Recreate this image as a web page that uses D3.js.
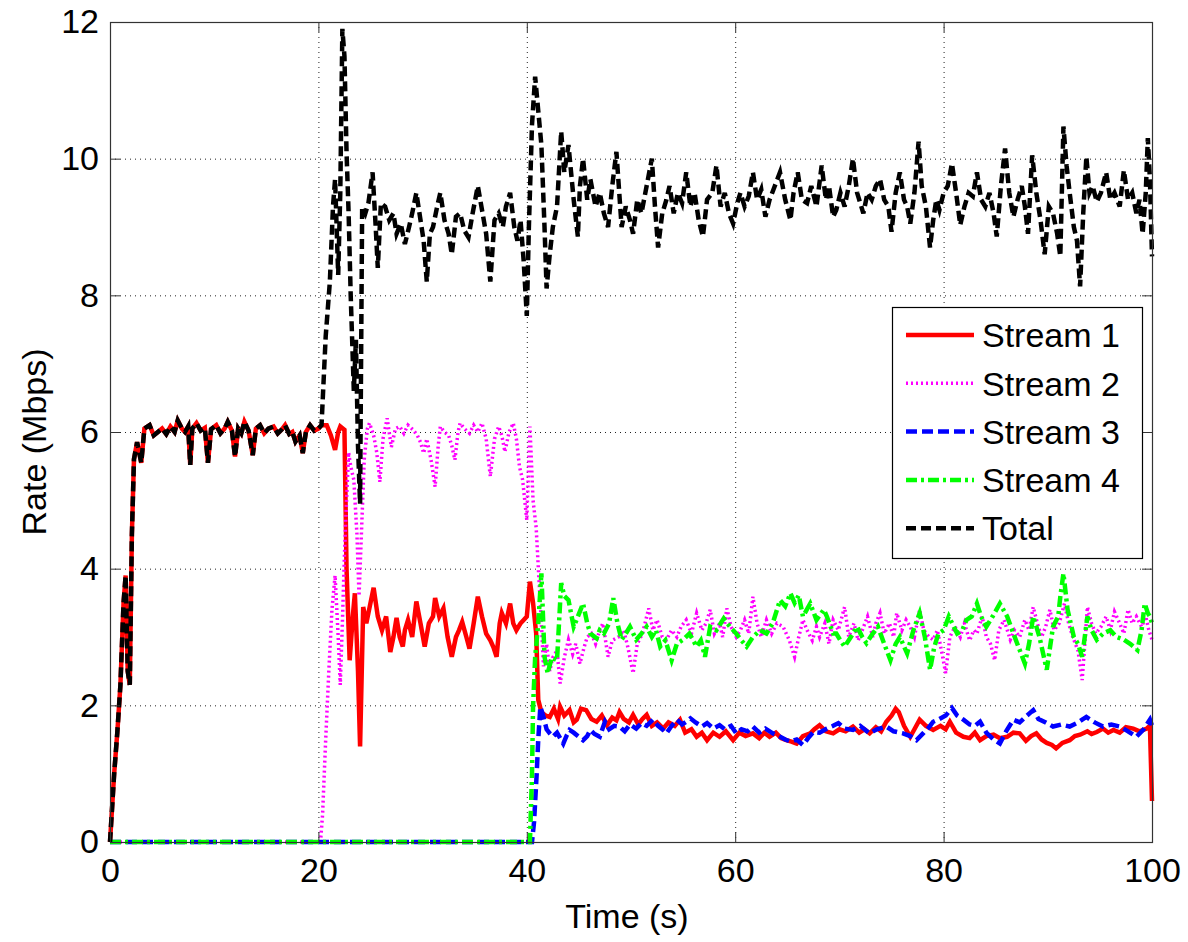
<!DOCTYPE html>
<html>
<head>
<meta charset="utf-8">
<script src="https://cdn.jsdelivr.net/npm/d3@7"></script>
<style>
  html, body { margin: 0; padding: 0; background: #fff; }
  svg text { font-family: "Liberation Sans", Arial, Helvetica, sans-serif; fill: #000; }
</style>
</head>
<body>
<svg id="chart" width="1188" height="942"></svg>
<script>
// data: [time (s), rate (Mbps)]
// Stream 1 and Total coincide until stream 2 starts (~20 s)
const startPhase = [[0,0],[0.4,1.0],[0.7,1.6],[1.0,2.3],[1.3,3.5],[1.5,3.9],[1.7,2.5],[1.9,2.3],[2.1,4.5],[2.3,5.6],[2.6,5.85],[3.0,5.55],[3.3,6.05],[3.8,6.1],[4.2,5.95],[4.6,6.0],[5.0,6.05],[5.4,5.97],[5.8,6.08],[6.2,6.0],[6.5,6.17],[6.9,6.05],[7.2,6.0],[7.5,6.08],[7.7,5.52],[7.9,6.05],[8.3,6.13],[8.7,6.02],[9.1,6.06],[9.4,5.55],[9.7,6.04],[10.2,6.1],[10.6,5.98],[11.0,6.05],[11.3,6.15],[11.7,6.02],[12.0,5.64],[12.3,6.05],[12.6,5.98],[12.9,6.15],[13.3,6.02],[13.7,5.66],[14.0,6.05],[14.4,6.1],[14.8,5.98],[15.2,6.05],[15.7,6.08],[16.1,5.98],[16.5,6.04],[16.8,6.1],[17.2,5.97],[17.5,6.0],[17.8,5.86],[18.2,5.95],[18.5,5.69],[18.8,6.0],[19.2,6.1],[19.6,6.02],[20.0,6.05],[20.3,6.1]];

const stream1Rest = [[20.8,6.1],[21.2,5.95],[21.6,5.74],[21.9,6.0],[22.1,6.08],[22.5,6.03],[22.7,4.0],[23.0,2.66],[23.3,3.3],[23.5,3.64],[23.8,2.5],[24.0,1.4],[24.3,3.44],[24.6,3.2],[24.8,3.35],[25.0,3.5],[25.3,3.72],[25.7,3.3],[26.1,3.1],[26.5,3.3],[26.9,2.78],[27.2,3.0],[27.5,3.28],[27.8,3.0],[28.1,2.86],[28.3,3.1],[28.6,3.25],[29.0,3.0],[29.4,3.52],[29.8,3.2],[30.2,2.86],[30.6,3.2],[31.0,3.3],[31.2,3.57],[31.6,3.3],[32.0,3.42],[32.4,3.0],[32.8,2.71],[33.2,3.0],[33.5,3.1],[33.8,3.22],[34.2,3.0],[34.5,2.83],[34.9,3.2],[35.3,3.59],[35.7,3.3],[36.1,3.05],[36.5,2.95],[36.8,2.85],[37.1,2.71],[37.4,3.2],[37.6,3.35],[38.0,3.2],[38.4,3.49],[38.7,3.2],[39.0,3.1],[39.4,3.2],[39.7,3.25],[40.0,3.3],[40.3,3.81],[40.6,3.5],[40.9,3.05],[41.1,2.08],[41.4,1.9],[41.8,1.85],[42.2,1.83],[42.6,1.95],[43.0,1.8],[43.2,1.98],[43.6,1.85],[44.1,1.93],[44.5,1.75],[44.8,1.79],[45.2,1.95],[45.7,1.93],[46.2,1.8],[46.7,1.76],[47.2,1.85],[47.7,1.71],[48.2,1.82],[48.6,1.78],[48.9,1.9],[49.3,1.8],[49.8,1.75],[50.2,1.86],[50.7,1.72],[51.1,1.8],[51.5,1.86],[52.0,1.7],[52.5,1.75],[53.1,1.66],[53.6,1.75],[54.2,1.7],[54.7,1.79],[55.2,1.6],[55.8,1.65],[56.3,1.54],[56.8,1.6],[57.3,1.49],[57.9,1.6],[58.5,1.54],[59.1,1.62],[59.8,1.49],[60.4,1.6],[61.0,1.55],[61.7,1.59],[62.3,1.52],[62.8,1.6],[63.3,1.54],[63.9,1.6],[64.4,1.52],[64.9,1.49],[65.4,1.47],[65.9,1.44],[66.5,1.55],[67.2,1.59],[67.6,1.65],[68.1,1.71],[68.7,1.62],[69.4,1.59],[70.0,1.65],[70.6,1.62],[71.3,1.69],[71.9,1.6],[72.4,1.65],[72.9,1.59],[73.5,1.68],[74.0,1.62],[74.5,1.76],[75.0,1.85],[75.4,1.95],[75.7,1.9],[76.2,1.7],[76.8,1.54],[77.2,1.65],[77.7,1.79],[78.3,1.7],[79.0,1.64],[79.7,1.7],[80.2,1.65],[80.6,1.76],[81.2,1.6],[81.9,1.54],[82.5,1.52],[83.0,1.6],[83.5,1.49],[84.1,1.55],[84.8,1.57],[85.4,1.52],[86.1,1.54],[86.7,1.6],[87.3,1.59],[87.9,1.48],[88.4,1.55],[88.9,1.59],[89.4,1.5],[89.9,1.45],[90.4,1.42],[90.8,1.37],[91.4,1.45],[92.1,1.49],[92.6,1.55],[93.1,1.57],[93.8,1.62],[94.2,1.58],[94.7,1.61],[95.3,1.66],[95.8,1.6],[96.3,1.64],[96.9,1.6],[97.5,1.68],[98.2,1.66],[98.8,1.62],[99.5,1.66],[99.8,1.7],[100,0.6]];

const stream2 = [[0,0],[20.2,0],[20.4,0.4],[20.7,1.5],[21.0,2.5],[21.3,3.4],[21.6,3.9],[21.9,3.0],[22.1,2.3],[22.3,3.2],[22.5,4.2],[22.7,5.0],[22.9,5.7],[23.1,5.5],[23.4,5.3],[23.7,4.5],[23.9,3.6],[24.1,4.4],[24.4,5.6],[24.7,6.05],[24.9,6.13],[25.3,5.95],[25.6,5.7],[25.9,5.27],[26.2,5.9],[26.6,6.2],[27.0,5.78],[27.4,6.05],[27.8,6.08],[28.2,5.98],[28.6,6.1],[29.1,6.03],[29.5,5.95],[29.8,5.85],[30.1,5.69],[30.4,5.9],[30.8,5.6],[31.2,5.2],[31.5,5.8],[31.7,6.08],[32.1,6.0],[32.5,5.95],[32.8,5.8],[33.1,5.59],[33.4,6.0],[33.6,6.13],[34.0,6.05],[34.5,5.98],[34.9,6.1],[35.3,6.0],[35.7,6.13],[36.1,5.9],[36.5,5.35],[36.9,5.9],[37.3,6.08],[37.6,5.95],[37.9,5.71],[38.3,6.0],[38.7,6.13],[39.0,5.9],[39.3,5.49],[39.6,5.3],[40.0,4.71],[40.3,6.08],[40.6,5.0],[40.9,4.6],[41.1,4.03],[41.4,3.2],[41.6,2.57],[41.9,2.9],[42.2,2.5],[42.5,2.7],[42.9,2.8],[43.2,2.32],[43.6,2.7],[44.0,2.96],[44.4,2.75],[44.7,2.9],[45.1,2.61],[45.5,2.85],[45.8,3.0],[46.2,3.05],[46.6,2.9],[47.0,3.1],[47.3,3.2],[47.8,2.71],[48.2,2.95],[48.8,3.0],[49.3,3.1],[49.7,2.85],[50.2,2.47],[50.6,2.9],[51.1,3.05],[51.7,3.42],[52.1,3.1],[52.5,3.25],[53.0,3.0],[53.4,2.96],[53.9,3.1],[54.4,3.0],[54.8,3.15],[55.3,3.25],[55.8,3.05],[56.3,3.35],[56.8,3.1],[57.2,3.2],[57.6,3.4],[58.0,3.05],[58.5,3.2],[58.8,3.0],[59.2,3.42],[59.6,3.15],[60.1,3.0],[60.5,3.1],[60.9,3.25],[61.3,3.05],[61.7,3.59],[62.1,3.2],[62.5,3.0],[63.0,3.25],[63.5,3.05],[64.0,3.2],[64.6,3.15],[65.2,2.95],[65.7,2.71],[66.1,3.0],[66.5,3.25],[66.9,3.1],[67.4,2.95],[67.8,3.15],[68.1,3.0],[68.6,3.2],[69.0,2.9],[69.4,3.25],[69.9,3.1],[70.5,3.44],[70.9,3.0],[71.4,3.2],[71.8,2.95],[72.2,3.1],[72.7,3.3],[73.2,3.0],[73.5,3.2],[73.9,3.35],[74.3,3.05],[74.8,3.2],[75.2,3.0],[75.5,3.35],[76.0,3.1],[76.4,3.25],[76.8,3.15],[77.2,3.0],[77.7,3.4],[78.1,3.1],[78.6,3.0],[79.0,2.96],[79.4,3.1],[79.8,2.8],[80.2,2.47],[80.6,3.0],[81.1,3.15],[81.6,3.0],[82.0,3.2],[82.5,2.95],[82.9,3.1],[83.2,3.05],[83.7,3.3],[84.1,3.0],[84.5,2.9],[84.9,2.66],[85.3,3.1],[85.8,3.25],[86.4,2.96],[86.8,3.1],[87.3,3.0],[87.8,3.25],[88.2,3.1],[88.6,3.44],[89.0,3.2],[89.4,3.0],[89.8,3.15],[90.2,3.4],[90.6,3.1],[91.1,3.2],[91.6,3.49],[92.0,3.2],[92.4,3.0],[92.9,2.8],[93.3,2.37],[93.6,3.0],[93.8,3.44],[94.2,3.2],[94.6,3.05],[95.1,3.15],[95.6,3.3],[96.0,3.1],[96.4,3.37],[96.9,3.2],[97.3,3.05],[97.7,3.4],[98.1,3.2],[98.5,3.3],[99.0,3.15],[99.4,3.3],[99.7,3.1],[100,2.96]];

const stream3 = [[0,0],[40.5,0],[40.7,0.3],[40.95,1.0],[41.1,1.5],[41.3,1.98],[41.6,1.83],[41.9,1.65],[42.2,1.59],[42.5,1.54],[42.9,1.6],[43.2,1.52],[43.5,1.44],[43.8,1.55],[44.1,1.64],[44.5,1.6],[44.9,1.55],[45.4,1.49],[45.8,1.55],[46.1,1.64],[46.5,1.58],[47.0,1.54],[47.5,1.76],[47.9,1.65],[48.4,1.7],[48.9,1.69],[49.4,1.62],[49.9,1.72],[50.5,1.66],[51.0,1.74],[51.5,1.7],[52.1,1.79],[52.6,1.7],[53.0,1.65],[53.4,1.59],[53.9,1.7],[54.4,1.79],[54.9,1.72],[55.3,1.76],[55.7,1.81],[56.2,1.75],[56.8,1.69],[57.3,1.74],[57.9,1.66],[58.5,1.71],[59.0,1.65],[59.6,1.7],[60.1,1.59],[60.6,1.65],[61.2,1.62],[61.7,1.69],[62.3,1.6],[62.9,1.66],[63.6,1.59],[64.2,1.55],[64.8,1.5],[65.3,1.47],[65.9,1.5],[66.5,1.42],[67.0,1.52],[67.5,1.61],[68.1,1.6],[68.8,1.66],[69.4,1.7],[69.9,1.74],[70.5,1.66],[71.3,1.64],[72.0,1.7],[72.9,1.59],[73.6,1.65],[74.5,1.69],[75.2,1.62],[76.1,1.59],[76.8,1.55],[77.4,1.49],[78.1,1.6],[78.6,1.68],[79.0,1.76],[79.6,1.8],[80.2,1.85],[80.8,1.96],[81.3,1.85],[81.9,1.79],[82.5,1.72],[83.0,1.7],[83.5,1.76],[84.1,1.6],[84.8,1.5],[85.4,1.44],[86.0,1.62],[86.7,1.79],[87.3,1.75],[88.0,1.85],[88.6,1.93],[89.1,1.8],[89.8,1.75],[90.5,1.69],[91.3,1.72],[92.1,1.69],[92.9,1.75],[93.7,1.83],[94.5,1.75],[95.3,1.69],[96.1,1.72],[96.9,1.69],[97.7,1.62],[98.5,1.54],[99.2,1.65],[99.8,1.79],[100,1.7]];

const stream4 = [[0,0],[40.3,0],[40.5,1.0],[40.6,1.98],[40.8,2.7],[41.1,3.2],[41.4,3.93],[41.7,2.71],[42.0,2.47],[42.4,2.7],[42.9,2.66],[43.3,3.79],[43.6,3.6],[44.0,3.54],[44.5,3.15],[44.9,3.3],[45.4,3.49],[45.8,3.2],[46.1,3.05],[46.7,2.98],[47.0,3.1],[47.4,3.05],[47.9,3.2],[48.3,3.57],[48.7,3.2],[49.1,2.96],[49.5,3.05],[49.9,3.15],[50.5,2.96],[51.0,3.05],[51.5,3.15],[52.0,3.0],[52.4,3.1],[52.8,2.86],[53.3,2.95],[53.9,2.66],[54.4,2.9],[55.0,2.96],[55.6,3.05],[56.3,2.86],[56.7,2.95],[57.1,2.71],[57.6,3.15],[58.2,3.1],[58.9,3.27],[59.5,3.15],[60.1,3.05],[60.6,2.95],[61.1,2.86],[61.7,3.0],[62.4,3.1],[63.0,3.05],[63.6,3.2],[64.3,3.54],[64.8,3.45],[65.3,3.64],[65.7,3.5],[66.1,3.61],[66.5,3.3],[67.2,3.49],[67.8,3.25],[68.5,3.4],[68.8,3.3],[69.4,3.05],[69.7,3.05],[70.1,2.95],[70.5,2.86],[71.1,3.0],[71.7,3.15],[72.2,3.0],[72.6,2.91],[73.2,3.05],[73.7,3.15],[74.3,2.9],[74.9,2.66],[75.4,2.9],[75.8,3.0],[76.5,2.76],[77.1,3.1],[77.7,3.35],[78.2,3.0],[78.7,2.52],[79.1,2.85],[79.5,3.05],[80.0,3.1],[80.5,3.3],[81.3,3.05],[81.8,3.1],[82.2,3.25],[82.7,3.3],[83.2,3.49],[83.6,3.3],[84.1,3.15],[84.7,3.3],[85.4,3.49],[86.1,3.3],[86.7,3.05],[87.2,2.85],[87.8,2.61],[88.2,2.9],[88.6,3.3],[89.2,3.0],[89.9,2.52],[90.5,3.15],[91.0,3.3],[91.2,3.59],[91.5,3.93],[91.9,3.4],[92.5,3.0],[92.9,2.9],[93.3,2.71],[93.8,3.3],[94.2,3.1],[94.7,2.96],[95.3,3.05],[96.0,3.1],[96.6,3.0],[97.3,2.96],[97.9,2.9],[98.6,2.81],[99.0,3.1],[99.3,3.49],[99.6,3.35],[99.8,3.3],[100,3.2]];

const totalRest = [[20.7,7.4],[21.1,8.2],[21.4,9.3],[21.6,9.7],[21.9,8.3],[22.1,9.5],[22.3,11.9],[22.5,11.5],[22.7,10.1],[22.9,9.2],[23.1,8.0],[23.4,6.6],[23.6,7.35],[23.8,5.8],[24.0,4.95],[24.2,9.3],[24.5,9.2],[24.8,9.35],[25.2,9.8],[25.5,9.0],[25.7,8.4],[26.0,9.35],[26.4,9.3],[26.8,9.1],[27.2,9.2],[27.5,8.9],[27.9,9.05],[28.3,8.75],[28.7,9.0],[29.0,9.2],[29.4,9.5],[29.8,9.1],[30.1,8.8],[30.4,8.2],[30.7,8.9],[31.0,9.0],[31.4,9.3],[31.7,9.5],[32.1,9.1],[32.5,8.9],[32.8,8.6],[33.2,9.15],[33.6,9.2],[34.0,8.95],[34.4,8.85],[34.8,9.2],[35.3,9.6],[35.7,9.25],[36.1,8.9],[36.5,8.2],[36.9,9.1],[37.3,9.2],[37.7,9.0],[38.0,9.3],[38.4,9.5],[38.8,9.0],[39.1,8.8],[39.4,9.1],[39.7,8.5],[40.0,7.7],[40.2,9.0],[40.5,10.5],[40.8,11.2],[41.1,10.7],[41.4,10.2],[41.7,9.0],[41.9,8.1],[42.2,8.6],[42.5,9.0],[42.9,9.3],[43.3,10.4],[43.6,9.8],[44.0,10.2],[44.5,9.4],[44.9,8.86],[45.1,9.6],[45.4,10.0],[45.8,9.4],[46.1,9.7],[46.6,9.3],[47.0,9.5],[47.4,9.2],[47.8,9.0],[48.2,9.6],[48.6,10.1],[49.1,9.0],[49.5,9.3],[49.9,9.1],[50.2,8.9],[50.6,9.4],[51.0,9.2],[51.5,9.6],[52.0,10.0],[52.3,9.3],[52.6,8.7],[53.0,9.2],[53.4,9.4],[53.7,9.6],[54.1,9.2],[54.5,9.5],[54.9,9.35],[55.3,9.8],[55.7,9.3],[56.1,9.5],[56.5,9.1],[56.9,8.86],[57.3,9.4],[57.8,9.5],[58.2,9.9],[58.6,9.3],[59.0,9.5],[59.4,9.2],[59.8,9.05],[60.2,9.35],[60.5,9.5],[60.9,9.3],[61.3,9.45],[61.7,9.8],[62.1,9.4],[62.5,9.55],[62.9,9.15],[63.3,9.4],[63.8,9.6],[64.3,9.8],[64.8,9.4],[65.3,9.1],[65.6,9.5],[66.0,9.8],[66.4,9.4],[66.9,9.35],[67.3,9.6],[67.8,9.3],[68.3,9.9],[68.7,9.4],[69.0,9.6],[69.4,9.15],[69.7,9.25],[70.1,9.5],[70.5,9.3],[70.9,9.6],[71.3,10.0],[71.7,9.5],[72.0,9.35],[72.3,9.2],[72.7,9.5],[73.1,9.4],[73.5,9.6],[73.9,9.7],[74.3,9.4],[74.7,9.3],[75.0,8.93],[75.4,9.5],[75.8,9.8],[76.2,9.4],[76.5,9.3],[76.8,9.05],[77.2,9.5],[77.6,10.25],[77.9,9.6],[78.3,9.3],[78.7,8.7],[79.0,9.1],[79.3,9.4],[79.6,9.25],[80.0,9.5],[80.4,9.6],[80.8,9.93],[81.2,9.5],[81.6,9.03],[82.0,9.3],[82.4,9.5],[82.8,9.45],[83.2,9.8],[83.6,9.4],[84.0,9.3],[84.4,9.5],[84.8,9.2],[85.1,8.86],[85.5,9.6],[85.9,10.15],[86.3,9.5],[86.7,9.15],[87.1,9.4],[87.5,9.6],[87.8,9.3],[88.1,8.9],[88.5,10.05],[88.9,9.5],[89.3,9.1],[89.7,8.6],[90.1,9.3],[90.5,9.2],[90.9,8.9],[91.2,8.57],[91.5,10.47],[91.8,9.9],[92.1,9.5],[92.5,9.0],[92.8,8.8],[93.1,8.13],[93.4,9.2],[93.7,10.03],[94.0,9.5],[94.3,9.6],[94.7,9.37],[95.1,9.5],[95.6,9.8],[96.0,9.4],[96.4,9.5],[96.9,9.3],[97.3,9.83],[97.7,9.4],[98.1,9.5],[98.5,9.2],[98.8,9.4],[99.1,8.9],[99.4,9.5],[99.6,10.3],[99.8,9.7],[100,8.57]];

const xTicks = [0, 20, 40, 60, 80, 100];
const yTicks = [0, 2, 4, 6, 8, 10, 12];
const seriesNames = ["Stream 1", "Stream 2", "Stream 3", "Stream 4", "Total"];

// series styles (plot order = legend order, Total drawn last)
const series = [
    { name: seriesNames[0], data: startPhase.concat(stream1Rest), color: "#ff0000", width: 4.5, dash: null },
    { name: seriesNames[1], data: stream2, color: "#ff00ff", width: 3.5, dash: "2,3" },
    { name: seriesNames[2], data: stream3, color: "#0000ff", width: 4.5, dash: "11,5" },
    { name: seriesNames[3], data: stream4, color: "#00ff00", width: 4.5, dash: "11,4,3,4" },
    { name: seriesNames[4], data: startPhase.concat(totalRest), color: "#000000", width: 4.5, dash: "10,5" }
];

const svg = d3.select("#chart");
const plotLeft = 110, plotRight = 1152, plotTop = 22, plotBottom = 842;
const fontSize = 34;

const x = d3.scaleLinear().domain([0, 100]).range([plotLeft, plotRight]);
const y = d3.scaleLinear().domain([0, 12]).range([plotBottom, plotTop]);

svg.append("rect").attr("width", 1188).attr("height", 942).attr("fill", "#fff");

// grid
const grid = svg.append("g")
    .attr("stroke", "#222")
    .attr("stroke-width", 1)
    .attr("stroke-dasharray", "1,4");
grid.selectAll("line.gx")
    .data(xTicks.slice(1, -1))
    .join("line")
    .attr("class", "gx")
    .attr("x1", d => x(d) + 0.5).attr("x2", d => x(d) + 0.5)
    .attr("y1", plotTop).attr("y2", plotBottom);
grid.selectAll("line.gy")
    .data(yTicks.slice(1, -1))
    .join("line")
    .attr("class", "gy")
    .attr("x1", plotLeft).attr("x2", plotRight)
    .attr("y1", d => y(d) + 0.5).attr("y2", d => y(d) + 0.5);

// lines
const line = d3.line().x(d => x(d[0])).y(d => y(d[1]));
svg.append("g")
    .selectAll("path")
    .data(series)
    .join("path")
    .attr("d", d => line(d.data))
    .attr("fill", "none")
    .attr("stroke", d => d.color)
    .attr("stroke-width", d => d.width)
    .attr("stroke-dasharray", d => d.dash)
    .attr("stroke-linejoin", "miter")
    .attr("stroke-linecap", "butt");

// axes: ticks point inward, box on all four sides
const styleAxis = (g) => {
    g.select(".domain").remove();
    g.selectAll(".tick line").attr("stroke", "#333");
    g.selectAll(".tick text").attr("font-size", fontSize).attr("fill", "#000")
        .style("font-family", "'Liberation Sans', Arial, Helvetica, sans-serif");
};

svg.append("g")
    .attr("transform", `translate(0,${plotBottom})`)
    .call(d3.axisBottom(x).tickValues(xTicks).tickSize(-10).tickPadding(16).tickFormat(d3.format("d")))
    .call(styleAxis);
svg.append("g")
    .attr("transform", `translate(${plotLeft},0)`)
    .call(d3.axisLeft(y).tickValues(yTicks).tickSize(-10).tickPadding(11).tickFormat(d3.format("d")))
    .call(styleAxis);
svg.append("g")
    .attr("transform", `translate(0,${plotTop})`)
    .call(d3.axisTop(x).tickValues(xTicks).tickSize(-10).tickFormat(""))
    .call(styleAxis);
svg.append("g")
    .attr("transform", `translate(${plotRight},0)`)
    .call(d3.axisRight(y).tickValues(yTicks).tickSize(-10).tickFormat(""))
    .call(styleAxis);

svg.append("rect")
    .attr("x", plotLeft + 0.5).attr("y", plotTop + 0.5)
    .attr("width", plotRight - plotLeft).attr("height", plotBottom - plotTop)
    .attr("fill", "none")
    .attr("stroke", "#333")
    .attr("stroke-width", 1.2);

// axis titles
svg.append("text")
    .attr("x", (plotLeft + plotRight) / 2 - 4)
    .attr("y", 928)
    .attr("text-anchor", "middle")
    .attr("font-size", fontSize)
    .text("Time (s)");
svg.append("text")
    .attr("transform", `translate(46,442) rotate(-90)`)
    .attr("text-anchor", "middle")
    .attr("font-size", fontSize)
    .text("Rate (Mbps)");

// legend
const legend = svg.append("g").attr("transform", "translate(892,307)");
legend.append("rect")
    .attr("x", 0.5).attr("y", 0.5)
    .attr("width", 250).attr("height", 251)
    .attr("fill", "#fff")
    .attr("stroke", "#000")
    .attr("stroke-width", 1.2);

const rows = legend.selectAll("g.row")
    .data(series)
    .join("g")
    .attr("class", "row")
    .attr("transform", (d, i) => `translate(0,${28 + i * 48.3})`);
rows.append("line")
    .attr("x1", 14).attr("x2", 82)
    .attr("y1", 0).attr("y2", 0)
    .attr("stroke", d => d.color)
    .attr("stroke-width", d => d.width)
    .attr("stroke-dasharray", d => d.dash);
rows.append("text")
    .attr("x", 90)
    .attr("dy", "0.36em")
    .attr("font-size", fontSize)
    .text(d => d.name);
</script>
</body>
</html>
